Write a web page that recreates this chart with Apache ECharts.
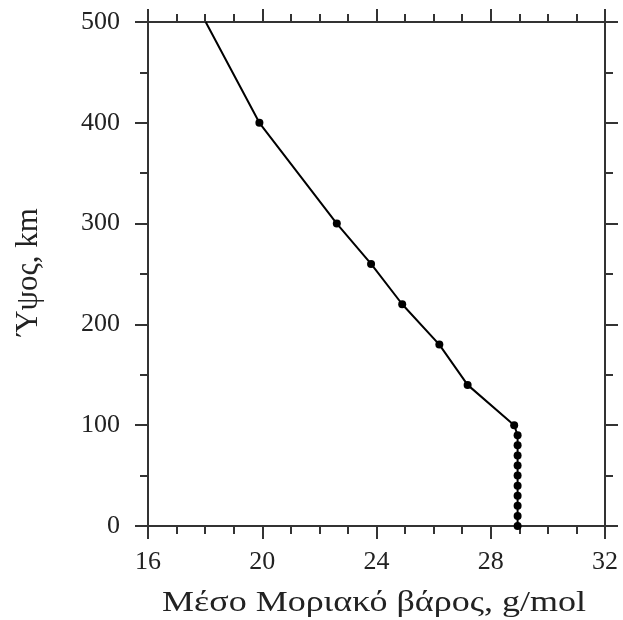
<!DOCTYPE html>
<html>
<head>
<meta charset="utf-8">
<script src="https://cdn.jsdelivr.net/npm/echarts@6/dist/echarts.min.js"></script>
<style>
  html, body { margin: 0; padding: 0; background: #fff; }
  #chart { width: 623px; height: 620px; }
</style>
</head>
<body>
<div id="chart"></div>
<script>
// Mean molar mass of air versus altitude
const altitudes = [0, 10, 20, 30, 40, 50, 60, 70, 80, 90, 100, 140, 180, 220, 260, 300, 400, 500];
const molarMass = [28.94, 28.94, 28.94, 28.94, 28.94, 28.94, 28.94, 28.94, 28.94, 28.94, 28.82,
                   27.19, 26.20, 24.90, 23.81, 22.61, 19.90, 18.02];
const markedPoints = [true, true, true, true, true, true, true, true, true, true, true,
                      true, true, true, true, true, true, false];
const xTicks = [16, 20, 24, 28, 32];
const yTicks = [0, 100, 200, 300, 400, 500];
const xTitle = 'Μέσο Μοριακό βάρος, g/mol';
const yTitle = 'Ύψος, km';

const FONT = '"Liberation Serif", "Times New Roman", serif';
const AXIS_COLOR = '#333';
const TEXT_COLOR = '#222';

const seriesData = altitudes.map((h, i) => ({
  value: [molarMass[i], h],
  symbol: markedPoints[i] ? 'circle' : 'none'
}));

function xAxisDef(pos, showLabels) {
  return {
    type: 'value', position: pos,
    min: xTicks[0], max: xTicks[xTicks.length - 1], interval: xTicks[1] - xTicks[0],
    axisLine: { show: true, onZero: false, lineStyle: { color: AXIS_COLOR, width: 2 } },
    axisTick: { show: true, length: 13, lineStyle: { color: AXIS_COLOR, width: 2 } },
    minorTick: { show: true, splitNumber: 4, length: 8, lineStyle: { color: AXIS_COLOR, width: 2 } },
    splitLine: { show: false },
    axisLabel: {
      show: showLabels, margin: 23, color: TEXT_COLOR,
      fontFamily: FONT, fontSize: 26
    }
  };
}

function yAxisDef(pos, showLabels) {
  return {
    type: 'value', position: pos,
    min: yTicks[0], max: yTicks[yTicks.length - 1], interval: yTicks[1] - yTicks[0],
    axisLine: { show: true, onZero: false, lineStyle: { color: AXIS_COLOR, width: 2 } },
    axisTick: { show: true, length: 13, lineStyle: { color: AXIS_COLOR, width: 2 } },
    minorTick: { show: true, splitNumber: 2, length: 8, lineStyle: { color: AXIS_COLOR, width: 2 } },
    splitLine: { show: false },
    axisLabel: {
      show: showLabels, margin: 28, color: TEXT_COLOR,
      fontFamily: FONT, fontSize: 26
    }
  };
}

const chart = echarts.init(document.getElementById('chart'), null, { renderer: 'canvas' });

chart.setOption({
  backgroundColor: '#fff',
  animation: false,
  grid: { left: 148, right: 18, top: 22, bottom: 94, containLabel: false },
  xAxis: [xAxisDef('bottom', true), xAxisDef('top', false)],
  yAxis: [yAxisDef('left', true), yAxisDef('right', false)],
  series: [{
    type: 'line',
    xAxisIndex: 0, yAxisIndex: 0,
    data: seriesData,
    symbolSize: 8,
    showSymbol: true,
    lineStyle: { color: '#000', width: 2 },
    itemStyle: { color: '#000' },
    clip: false,
    z: 3
  }],
  graphic: [
    {
      type: 'text', x: 374, y: 603, scaleX: 1.2,
      style: {
        text: xTitle, fill: TEXT_COLOR, font: '30px ' + FONT,
        textAlign: 'center', textVerticalAlign: 'middle'
      }
    },
    {
      type: 'text', x: 29, y: 272, rotation: Math.PI / 2,
      style: {
        text: yTitle, fill: TEXT_COLOR, font: '31px ' + FONT,
        textAlign: 'center', textVerticalAlign: 'middle'
      }
    }
  ]
});
</script>
</body>
</html>
